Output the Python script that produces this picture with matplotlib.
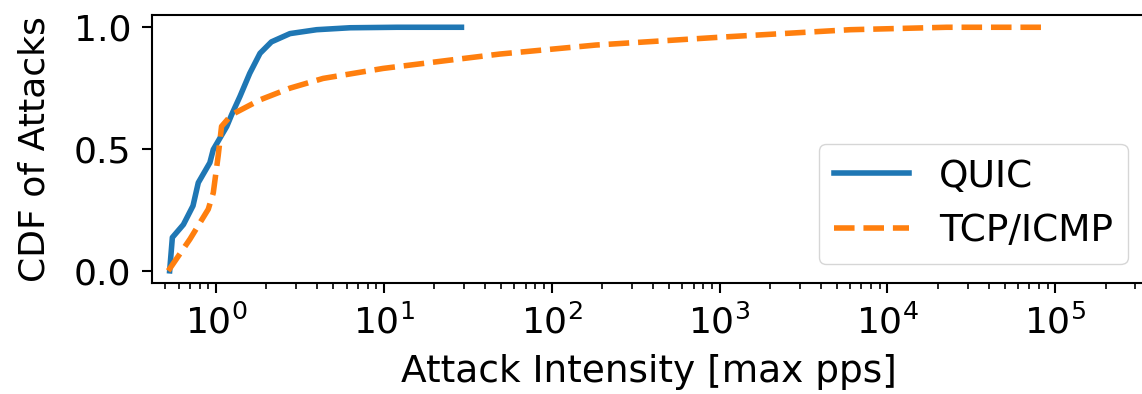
import matplotlib
matplotlib.use("Agg")
import matplotlib.pyplot as plt

# CDF points (x in max pps, y = fraction of attacks)
quic_x = [0.53, 0.55, 0.64, 0.73, 0.785, 0.92, 0.964, 1.16, 1.24, 1.39, 1.59, 1.83, 2.14, 2.76, 3.98, 6.3, 12, 29]
quic_y = [0.0, 0.137, 0.19, 0.267, 0.362, 0.444, 0.498, 0.593, 0.641, 0.716, 0.811, 0.893, 0.94, 0.974, 0.99, 0.998, 1.0, 1.0]

tcp_x = [0.52, 0.70, 0.90, 0.964, 1.03, 1.08, 1.24, 1.83, 2.76, 4.35, 9.9, 24.7, 49, 183, 1050, 6000, 22500, 91000]
tcp_y = [0.0, 0.13, 0.253, 0.32, 0.47, 0.593, 0.641, 0.702, 0.75, 0.79, 0.831, 0.865, 0.89, 0.927, 0.96, 0.99, 1.0, 1.0]

fig = plt.figure(figsize=(11.42, 3.94), dpi=100)
ax = fig.add_axes([0.1331, 0.2817, 0.871, 0.680])

ax.plot(quic_x, quic_y, color="#1f77b4", linewidth=4, label="QUIC")
ax.plot(tcp_x, tcp_y, color="#ff7f0e", linewidth=4, linestyle="--", label="TCP/ICMP")

ax.set_xscale("log")
ax.set_xlim(0.416, 3.5e5)
ax.set_ylim(-0.05, 1.05)
ax.set_yticks([0.0, 0.5, 1.0])

ax.set_xlabel("Attack Intensity [max pps]", fontsize=27, labelpad=10)
ax.set_ylabel("CDF of Attacks", fontsize=26, labelpad=16)
ax.tick_params(axis="both", which="major", labelsize=26, length=7, width=1.5, pad=8)
ax.tick_params(axis="both", which="minor", length=4, width=1.2)
for spine in ax.spines.values():
    spine.set_linewidth(1.5)

ax.legend(loc="lower right", fontsize=27)

fig.savefig("out.png", dpi=100)
